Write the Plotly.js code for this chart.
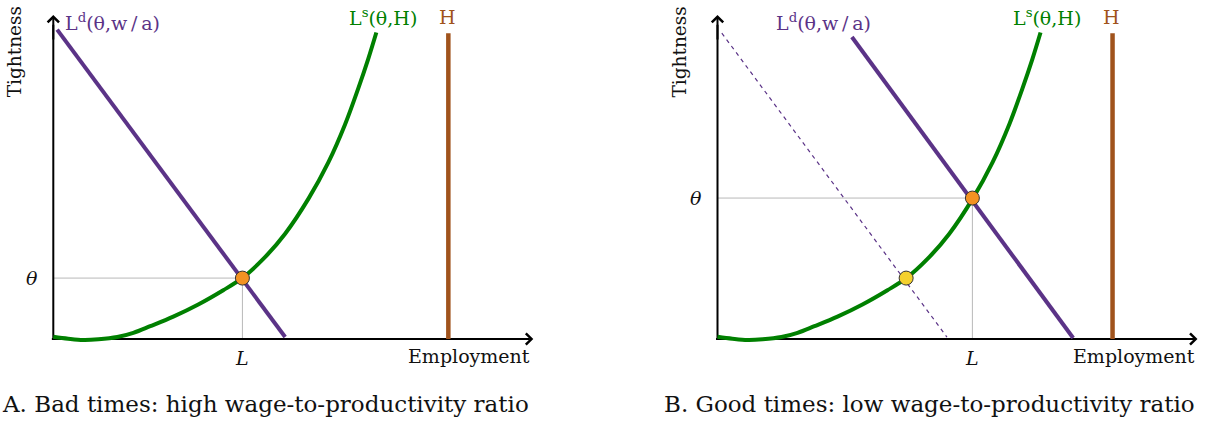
<!DOCTYPE html>
<html>
<head>
<meta charset="utf-8">
<script src="https://cdn.plot.ly/plotly-3.0.1.min.js"></script>
<style>html,body{margin:0;padding:0;background:#fff;}#chart{width:1209px;height:421px;}</style>
</head>
<body>
<div id="chart"></div>
<script>
// ---- data (abstract units: employment 0..10, tightness 0..10) ----
const supplyX = [0, 0.31, 0.625, 0.94, 1.333, 1.667, 2.02, 2.5, 3.02, 3.54, 3.94, 4.375, 4.83, 5.32, 5.73, 6.08, 6.35, 6.56, 6.73];
const supplyY = [0.07, 0.01, -0.03, -0.01, 0.06, 0.19, 0.395, 0.69, 1.065, 1.505, 1.885, 2.47, 3.25, 4.34, 5.45, 6.63, 7.72, 8.64, 9.46];
const demandAX = [0.08, 4.83];
const demandAY = [9.55, 0.06];
const demandBX = [2.80, 7.41];
const demandBY = [9.32, 0.03];
const demandOldBX = [0.09, 4.78];
const demandOldBY = [9.44, 0.06];
const laborForceX = [8.23, 8.23];
const laborForceY = [0, 9.44];
const eqA = {x: 3.94, y: 1.88};
const eqB = {x: 5.31, y: 4.35};
const oldEqB = {x: 3.93, y: 1.88};
const axisMax = 10;
const captions = ["A. Bad times: high wage-to-productivity ratio", "B. Good times: low wage-to-productivity ratio"];

const PURPLE = '#5b3387', GREEN = '#008000', BROWN = '#a0531c', GRAY = '#b8b8b8';
const FONT = 'DejaVu Serif, Liberation Serif, serif';

function panel(xa, ya, eq, demandX, demandY, extra) {
  const tr = [];
  tr.push({x: [0, eq.x], y: [eq.y, eq.y], xaxis: xa, yaxis: ya, mode: 'lines', line: {color: GRAY, width: 1}, hoverinfo: 'skip'});
  tr.push({x: [eq.x, eq.x], y: [0, eq.y], xaxis: xa, yaxis: ya, mode: 'lines', line: {color: GRAY, width: 1}, hoverinfo: 'skip'});
  tr.push({x: [-0.03, axisMax - 0.2], y: [0, 0], xaxis: xa, yaxis: ya, mode: 'lines', line: {color: '#000', width: 2}, hoverinfo: 'skip'});
  tr.push({x: [0, 0], y: [-0.03, axisMax - 0.3], xaxis: xa, yaxis: ya, mode: 'lines', line: {color: '#000', width: 2}, hoverinfo: 'skip'});
  if (extra) tr.push(extra);
  tr.push({x: demandX, y: demandY, xaxis: xa, yaxis: ya, mode: 'lines', line: {color: PURPLE, width: 4}});
  tr.push({x: supplyX, y: supplyY, xaxis: xa, yaxis: ya, mode: 'lines', line: {color: GREEN, width: 4, shape: 'spline', smoothing: 1}});
  tr.push({x: laborForceX, y: laborForceY, xaxis: xa, yaxis: ya, mode: 'lines', line: {color: BROWN, width: 4.5}});
  return tr;
}

const traces = [].concat(
  panel('x', 'y', eqA, demandAX, demandAY, null),
  panel('x2', 'y2', eqB, demandBX, demandBY,
    {x: demandOldBX, y: demandOldBY, xaxis: 'x2', yaxis: 'y2', mode: 'lines', line: {color: PURPLE, width: 1.2, dash: '4px,4px'}})
);
traces.push({x: [oldEqB.x], y: [oldEqB.y], xaxis: 'x2', yaxis: 'y2', mode: 'markers', marker: {size: 14, color: '#f4d12e', line: {color: '#333', width: 1}}});
traces.push({x: [eqA.x], y: [eqA.y], xaxis: 'x', yaxis: 'y', mode: 'markers', marker: {size: 14, color: '#f39222', line: {color: '#333', width: 1}}});
traces.push({x: [eqB.x], y: [eqB.y], xaxis: 'x2', yaxis: 'y2', mode: 'markers', marker: {size: 14, color: '#f39222', line: {color: '#333', width: 1}}});

function labels(xr, yr, eq, ldX, caption) {
  const a = [];
  const base = {xref: xr, yref: yr, showarrow: false};
  a.push({xref: xr, yref: yr, axref: xr, ayref: yr, x: axisMax, y: 0, ax: axisMax - 0.6, ay: 0, text: '', showarrow: true, arrowhead: 4, arrowsize: 1.1, arrowwidth: 2, arrowcolor: '#000'});
  a.push({xref: xr, yref: yr, axref: xr, ayref: yr, x: 0, y: axisMax, ax: 0, ay: axisMax - 0.8, text: '', showarrow: true, arrowhead: 4, arrowsize: 1.1, arrowwidth: 2, arrowcolor: '#000'});
  a.push(Object.assign({}, base, {x: ldX, y: 9.78, xanchor: 'left', yanchor: 'middle', text: 'L<sup>d</sup>(θ,w\u2009/\u2009a)', font: {family: FONT, size: 19, color: PURPLE}}));
  a.push(Object.assign({}, base, {x: 6.86, y: 9.94, xanchor: 'center', yanchor: 'middle', text: 'L<sup>s</sup>(θ,H)', font: {family: FONT, size: 19, color: GREEN}}));
  a.push(Object.assign({}, base, {x: 8.21, y: 9.94, xanchor: 'center', yanchor: 'middle', text: 'H', font: {family: FONT, size: 19, color: BROWN}}));
  a.push(Object.assign({}, base, {x: -0.45, y: eq.y, xanchor: 'center', yanchor: 'middle', text: '<i>θ</i>', font: {family: FONT, size: 19, color: '#111'}}));
  a.push(Object.assign({}, base, {x: eq.x, y: -0.58, xanchor: 'center', yanchor: 'middle', text: '<i>L</i>', font: {family: FONT, size: 19, color: '#111'}}));
  a.push(Object.assign({}, base, {x: 9.98, y: -0.52, xanchor: 'right', yanchor: 'middle', text: 'Employment', font: {family: FONT, size: 19, color: '#111'}}));
  a.push(Object.assign({}, base, {x: -0.79, y: 8.86, xanchor: 'center', yanchor: 'middle', textangle: -90, text: 'Tightness', font: {family: FONT, size: 18.5, color: '#111'}}));
  a.push(Object.assign({}, base, {x: 4.42, y: -2.0, xanchor: 'center', yanchor: 'middle', text: caption, font: {family: FONT, size: 23, color: '#111'}}));
  return a;
}

const hidden = {showgrid: false, zeroline: false, showticklabels: false, ticks: '', showline: false, fixedrange: true};
const PX = 48, PY = 32.4; // pixels per unit
const yRange = [-(421 - 339) / PY, 339 / PY];
const layout = {
  width: 1209, height: 421,
  margin: {l: 0, r: 0, t: 0, b: 0},
  paper_bgcolor: '#fff', plot_bgcolor: '#fff',
  showlegend: false,
  xaxis: Object.assign({}, hidden, {domain: [0, 0.5], range: [-53.3 / PX, (604.5 - 53.3) / PX], anchor: 'y'}),
  yaxis: Object.assign({}, hidden, {domain: [0, 1], range: yRange, anchor: 'x'}),
  xaxis2: Object.assign({}, hidden, {domain: [0.5, 1], range: [-(717.5 - 604.5) / PX, (1209 - 717.5) / PX], anchor: 'y2'}),
  yaxis2: Object.assign({}, hidden, {domain: [0, 1], range: yRange, anchor: 'x2'}),
  annotations: [].concat(labels('x', 'y', eqA, 0.21, captions[0]), labels('x2', 'y2', eqB, 1.18, captions[1]))
};
Plotly.newPlot('chart', traces, layout, {displayModeBar: false, staticPlot: true});
</script>
</body>
</html>
